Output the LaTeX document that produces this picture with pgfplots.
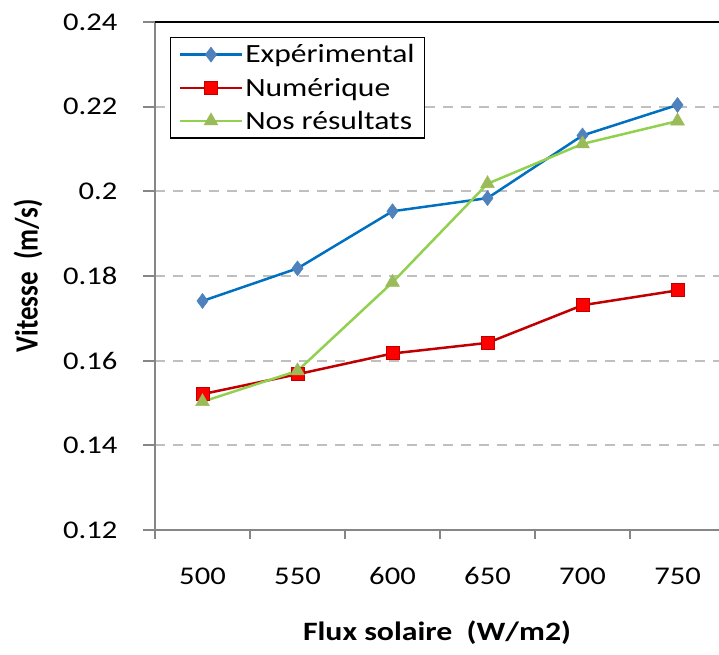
\documentclass[border=0pt]{standalone}
\usepackage{fontspec}
\setmainfont{Carlito}[FakeStretch=1.2]
\newfontfamily\plainfont{Carlito}
\usepackage{graphicx}
\usepackage{pgfplots}
\pgfplotsset{compat=1.18}
\definecolor{expline}{HTML}{0070C0}
\definecolor{expmark}{HTML}{4F81BD}
\definecolor{numline}{HTML}{C00000}
\definecolor{nummark}{HTML}{FF0000}
\definecolor{nosline}{HTML}{92D050}
\definecolor{nosmark}{HTML}{9BBB59}
\definecolor{axgray}{HTML}{868686}
\definecolor{gridgray}{HTML}{BFBFBF}
\begin{document}
\begin{tikzpicture}
\useasboundingbox (-155pt,-124pt) rectangle (564pt,530pt);
\begin{axis}[
  scale only axis, width=564pt, height=508pt,
  xmin=-0.5, xmax=5.4368, ymin=0.12, ymax=0.24,
  axis lines*=left,
  axis line style={draw=axgray, line width=2pt},
  xtick={0,1,2,3,4,5},
  xticklabels={500,550,600,650,700,750},
  major x tick style={draw=none},
  minor xtick={-0.5,0.5,1.5,2.5,3.5,4.5},
  minor tick length=9pt,
  major tick length=12pt,
  tick align=outside,
  tick style={draw=axgray, line width=2pt},
  ytick={0.12,0.14,0.16,0.18,0.2,0.22,0.24},
  yticklabels={0.12,0.14,0.16,0.18,0.2,0.22,0.24},
  ymajorgrids,
  grid style={draw=gridgray, line width=2pt, dash pattern=on 10pt off 8pt},
  tick label style={font=\fontsize{25.5}{30}\selectfont},
  xticklabel style={yshift=-22pt},
  yticklabel style={xshift=-22pt},
  xlabel={\textbf{Flux solaire\ \ (W/m2)}},
  ylabel={\scalebox{1}[1.2]{\plainfont\bfseries Vitesse\ \ (m/s)}},
  xlabel style={font=\fontsize{26.5}{31}\selectfont, at={(0.5,0)}, anchor=center, yshift=-103pt},
  ylabel style={font=\fontsize{27}{32}\selectfont, at={(0,0.5)}, anchor=center, rotate=0, yshift=127pt},
  legend style={at={(0.0266,0.9705)}, anchor=north west,
    draw=black, line width=1.5pt, inner xsep=8pt, inner ysep=5pt,
    font=\fontsize{26.3}{31}\selectfont, row sep=9.5pt,
    cells={anchor=west}},
  legend image code/.code={%
    \draw[mark repeat=2,mark phase=2,#1] plot coordinates {(0pt,0pt) (31pt,0pt) (62pt,0pt)};},
  clip=false,
]
\addplot[color=expline, line width=2.5pt, mark=diamond*, mark size=7.5pt,
  mark options={draw=expmark, fill=expmark, line width=0.5pt}]
  coordinates {(0,0.1741) (1,0.1818) (2,0.1953) (3,0.1984) (4,0.2132) (5,0.2204)};
\addlegendentry{Expérimental}
\addplot[color=numline, line width=2.5pt, mark=square*, mark size=6.5pt,
  mark options={draw=numline, fill=nummark, line width=1pt}]
  coordinates {(0,0.1521) (1,0.1568) (2,0.1617) (3,0.1642) (4,0.1731) (5,0.1766)};
\addlegendentry{Numérique}
\addplot[color=nosline, line width=2.5pt, mark=triangle*, mark size=8pt,
  mark options={draw=nosmark, fill=nosmark, line width=0.5pt}]
  coordinates {(0,0.1503) (1,0.1576) (2,0.1785) (3,0.2018) (4,0.2112) (5,0.2166)};
\addlegendentry{Nos résultats}
\draw[black, line width=2.5pt] (rel axis cs:0,1) -- (rel axis cs:1,1);
\end{axis}
\end{tikzpicture}
\end{document}
